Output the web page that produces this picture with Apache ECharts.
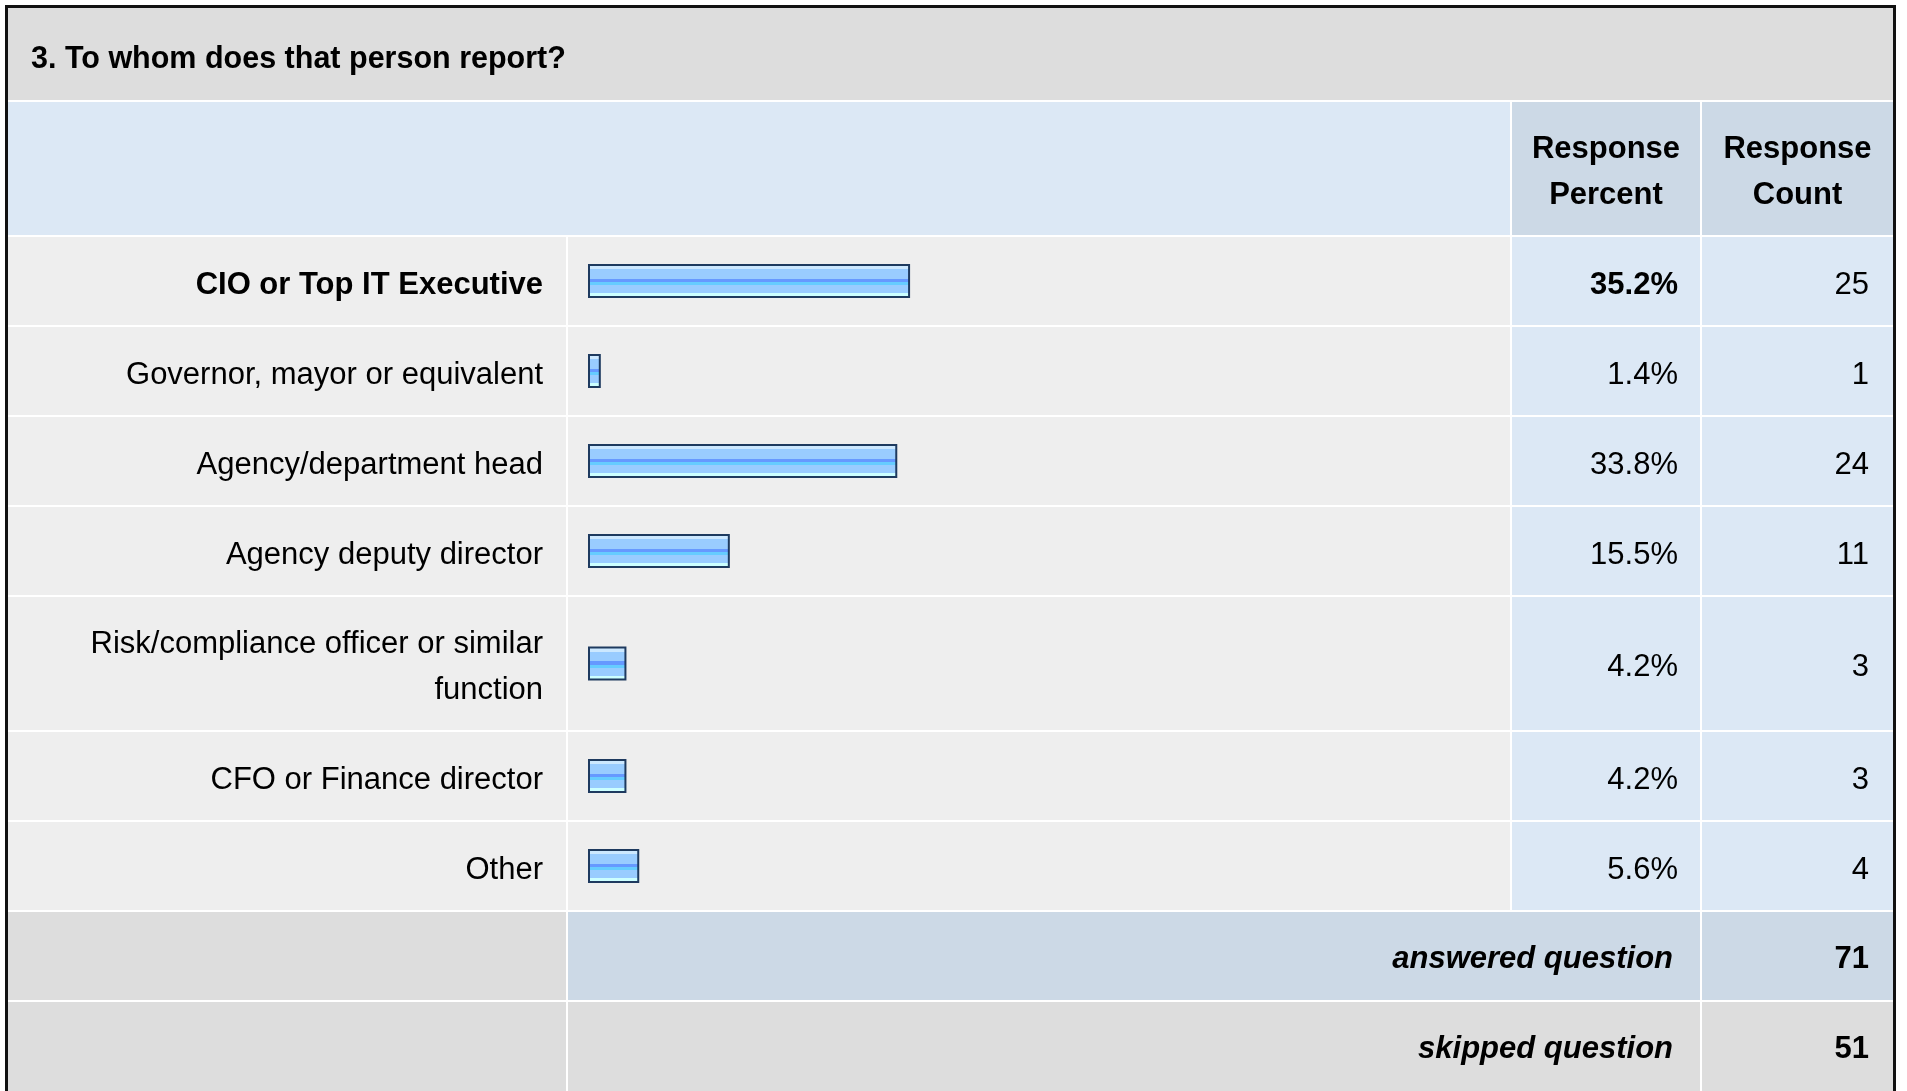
<!DOCTYPE html>
<html><head><meta charset="utf-8">
<script src="https://cdn.jsdelivr.net/npm/echarts@6.0.0/dist/echarts.min.js"></script>
<style>html,body{margin:0;padding:0;background:#ffffff}#c{width:1907px;height:1091px}</style>
</head><body><div id="c"></div>
<script>
// ---- data ----
const questionTitle = '3. To whom does that person report?';
const categories = ['CIO or Top IT Executive', 'Governor, mayor or equivalent', 'Agency/department head', 'Agency deputy director', 'Risk/compliance officer or similar function', 'CFO or Finance director', 'Other'];
const percents = [35.2, 1.4, 33.8, 15.5, 4.2, 4.2, 5.6];
const counts = [25, 1, 24, 11, 3, 3, 4];
const headerLabels = ['Response\nPercent', 'Response\nCount'];
const summaryLabels = ['answered question', 'skipped question'];
const summaryCounts = [71, 51];
const boldRows = [0];

// ---- layout ----
const FONT = '"Liberation Sans", Arial, Helvetica, sans-serif';
const FS = 31;
const DY = 4; // text baseline nudge
const X0 = 8, X1 = 566, X2 = 1510, X3 = 1700, X4 = 1893;
const TITLE_BOTTOM = 100;
const lines = [235, 325, 415, 505, 595, 730, 820, 910, 1000, 1091];
const BAR_LEFT = 588, BAR_SPAN = 915, LABEL_RIGHT = 543, LABEL_MAXW = 500;

const C_TITLE = '#dddddd', C_HEAD = '#dce8f5', C_HEAD2 = '#ccd9e6', C_ROW = '#eeeeee';

const barFill = new echarts.graphic.LinearGradient(0, 0, 0, 1, [
  {offset: 0, color: '#cce8ff'}, {offset: 0.15, color: '#cce8ff'},
  {offset: 0.15, color: '#99ccff'}, {offset: 0.44, color: '#99ccff'},
  {offset: 0.44, color: '#6699ff'}, {offset: 0.53, color: '#6699ff'},
  {offset: 0.53, color: '#66ccff'}, {offset: 0.62, color: '#66ccff'},
  {offset: 0.62, color: '#99ccff'}, {offset: 0.86, color: '#99ccff'},
  {offset: 0.86, color: '#ccffff'}, {offset: 1, color: '#ccffff'}
]);

// word wrap helper (measures with the label font)
const mctx = document.createElement('canvas').getContext('2d');
function wrap(str, bold) {
  mctx.font = (bold ? 'bold ' : '') + FS + 'px ' + FONT;
  const words = str.split(' '), out = [];
  let cur = '';
  words.forEach(function (w) {
    const t = cur ? cur + ' ' + w : w;
    if (cur && mctx.measureText(t).width > LABEL_MAXW) { out.push(cur); cur = w; } else { cur = t; }
  });
  if (cur) out.push(cur);
  return out;
}

const graphic = [];
function rect(x1, y1, x2, y2, fill) {
  graphic.push({type: 'rect', z: -10, silent: true, shape: {x: x1, y: y1, width: x2 - x1, height: y2 - y1}, style: {fill: fill}});
}
function text(str, x, y, align, opts) {
  graphic.push({type: 'text', z: 10, silent: true, x: x, y: y, style: Object.assign({
    text: str, fill: '#000', fontSize: FS, fontFamily: FONT,
    align: align, verticalAlign: 'middle', lineHeight: 46
  }, opts || {})});
}

// title band + header
rect(X0, 8, X4, TITLE_BOTTOM, C_TITLE);
rect(X0, TITLE_BOTTOM + 2, X2, lines[0], C_HEAD);
rect(X2 + 2, TITLE_BOTTOM + 2, X3, lines[0], C_HEAD2);
rect(X3 + 2, TITLE_BOTTOM + 2, X4, lines[0], C_HEAD2);
text(questionTitle, 31, 60, 'left', {fontWeight: 'bold', fontSize: 30.5});
text(headerLabels[0], (X2 + 2 + X3) / 2, (TITLE_BOTTOM + lines[0]) / 2 + 5, 'center', {fontWeight: 'bold'});
text(headerLabels[1], (X3 + 2 + X4) / 2, (TITLE_BOTTOM + lines[0]) / 2 + 5, 'center', {fontWeight: 'bold'});

const grids = [], xAxes = [], yAxes = [], series = [];
categories.forEach(function (cat, i) {
  const top = lines[i] + 2, bottom = lines[i + 1];
  const mid = (top + bottom) / 2;
  const bold = boldRows.indexOf(i) >= 0;
  rect(X0, top, X1, bottom, C_ROW);
  rect(X1 + 2, top, X2, bottom, C_ROW);
  rect(X2 + 2, top, X3, bottom, C_HEAD);
  rect(X3 + 2, top, X4, bottom, C_HEAD);
  text(percents[i].toFixed(1) + '%', X3 - 22, mid + DY, 'right', bold ? {fontWeight: 'bold'} : {});
  text(String(counts[i]), X4 - 24, mid + DY, 'right');

  grids.push({left: BAR_LEFT, width: BAR_SPAN, top: top, height: bottom - top, outerBoundsMode: 'none', containLabel: false});
  xAxes.push({type: 'value', gridIndex: i, min: 0, max: 100, show: false});
  yAxes.push({
    type: 'category', gridIndex: i, data: [cat],
    axisLine: {show: false}, axisTick: {show: false}, splitLine: {show: false},
    axisLabel: {
      margin: BAR_LEFT - LABEL_RIGHT, align: 'right',
      formatter: function (v) {
        return wrap(v, bold).map(function (l) { return '{t|' + l + '}'; }).join('\n');
      },
      rich: {
        t: {
          color: '#000', fontSize: FS, fontFamily: FONT, fontWeight: bold ? 'bold' : 'normal',
          align: 'right', lineHeight: 46, padding: [DY * 2, 0, 0, 0]
        }
      }
    }
  });
  series.push({
    type: 'bar', xAxisIndex: i, yAxisIndex: i, data: [percents[i]], barWidth: 34,
    itemStyle: {color: barFill, borderColor: '#1e3a5f', borderWidth: 2},
    silent: true
  });
});

// summary rows
const aTop = lines[7] + 2, aBot = lines[8];
rect(X0, aTop, X1, aBot, C_TITLE);
rect(X1 + 2, aTop, X3, aBot, C_HEAD2);
rect(X3 + 2, aTop, X4, aBot, C_HEAD2);
const sTop = lines[8] + 2, sBot = lines[9];
rect(X0, sTop, X1, sBot, C_TITLE);
rect(X1 + 2, sTop, X3, sBot, C_TITLE);
rect(X3 + 2, sTop, X4, sBot, C_TITLE);
[[aTop, aBot], [sTop, sBot]].forEach(function (r, k) {
  const mid = (r[0] + r[1]) / 2;
  text(summaryLabels[k], X3 - 27, mid + DY - 1, 'right', {fontWeight: 'bold', fontStyle: 'italic'});
  text(String(summaryCounts[k]), X4 - 24, mid + DY - 1, 'right', {fontWeight: 'bold'});
});

// outer frame
graphic.push({type: 'rect', z: 20, silent: true, shape: {x: 6.5, y: 6.5, width: 1888, height: 1100}, style: {fill: 'none', stroke: '#111111', lineWidth: 3}});

const chart = echarts.init(document.getElementById('c'), null, {renderer: 'canvas'});
chart.setOption({
  animation: false,
  backgroundColor: '#ffffff',
  grid: grids, xAxis: xAxes, yAxis: yAxes, series: series,
  graphic: graphic
});
</script>
</body></html>
